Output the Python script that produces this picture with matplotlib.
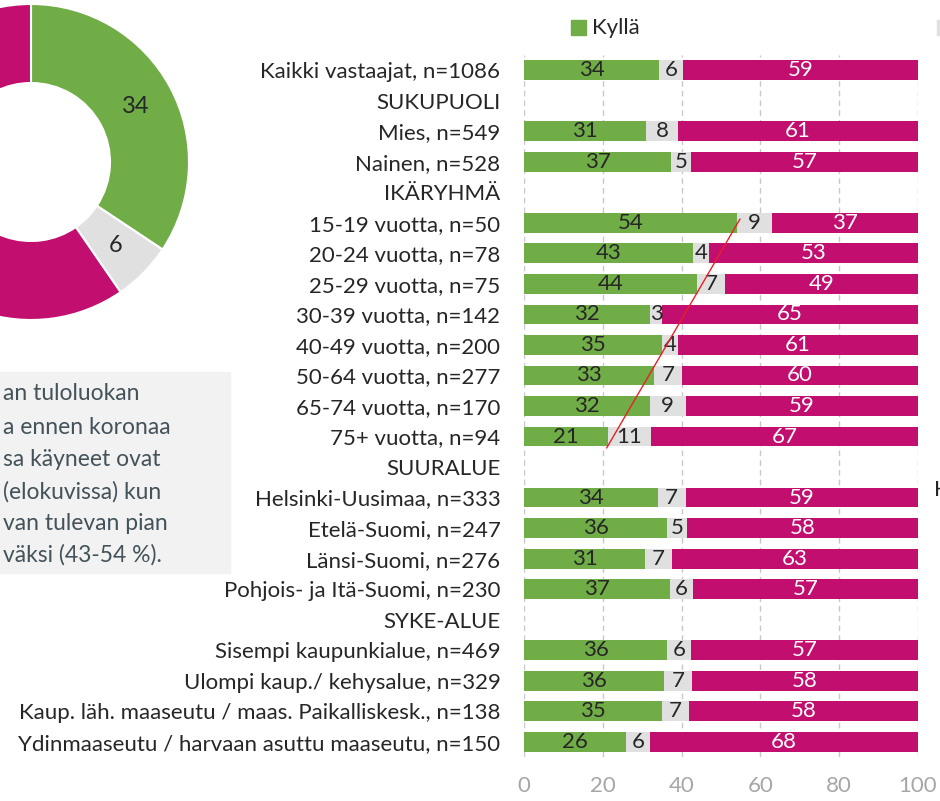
import math
import matplotlib
matplotlib.use("Agg")
import matplotlib.pyplot as plt
from matplotlib.patches import Rectangle

plt.rcParams['font.family'] = ['Lato', 'DejaVu Sans']

# ---------------- data ----------------
categories = [
    "Kaikki vastaajat, n=1086",
    "SUKUPUOLI",
    "Mies, n=549",
    "Nainen, n=528",
    "IKÄRYHMÄ",
    "15-19 vuotta, n=50",
    "20-24 vuotta, n=78",
    "25-29 vuotta, n=75",
    "30-39 vuotta, n=142",
    "40-49 vuotta, n=200",
    "50-64 vuotta, n=277",
    "65-74 vuotta, n=170",
    "75+ vuotta, n=94",
    "SUURALUE",
    "Helsinki-Uusimaa, n=333",
    "Etelä-Suomi, n=247",
    "Länsi-Suomi, n=276",
    "Pohjois- ja Itä-Suomi, n=230",
    "SYKE-ALUE",
    "Sisempi kaupunkialue, n=469",
    "Ulompi kaup./ kehysalue, n=329",
    "Kaup. läh. maaseutu / maas. Paikalliskesk., n=138",
    "Ydinmaaseutu / harvaan asuttu maaseutu, n=150",
]
kylla = [34, None, 31, 37, None, 54, 43, 44, 32, 35, 33, 32, 21, None,
         34, 36, 31, 37, None, 36, 36, 35, 26]
eos = [6, None, 8, 5, None, 9, 4, 7, 3, 4, 7, 9, 11, None,
       7, 5, 7, 6, None, 6, 7, 7, 6]
ei = [59, None, 61, 57, None, 37, 53, 49, 65, 61, 60, 59, 67, None,
      59, 58, 63, 57, None, 57, 58, 58, 68]
x_ticks = [0, 20, 40, 60, 80, 100]
legend_label = "Kyllä"

donut_values = [34, 6, 59]
donut_labels = ["34", "6", None]

box_lines = [
    "an tuloluokan",
    "a ennen koronaa",
    "sa käyneet ovat",
    "(elokuvissa) kun",
    "van tulevan pian",
    "väksi (43-54 %).",
]
right_fragment = "H"

# ---------------- style ----------------
GREEN = "#70AD47"
GREY = "#E0E0E0"
PINK = "#C20E6E"
TXT = "#262626"
W, H = 940, 801
FS = 16


def fx(px):
    return px / W


def fy(py):
    return 1 - py / H


fig = plt.figure(figsize=(W / 100, H / 100), dpi=100)

# ---------------- bar chart ----------------
ax = fig.add_axes([fx(524), fy(757), fx(918) - fx(524), fy(55) - fy(757)])
rows = list(range(len(categories)))
bh = 0.65
for i in rows:
    if kylla[i] is None:
        continue
    tot = kylla[i] + eos[i] + ei[i]
    a, b, c = (100 * v / tot for v in (kylla[i], eos[i], ei[i]))
    ax.barh(i, a, height=bh, color=GREEN, zorder=2)
    ax.barh(i, b, left=a, height=bh, color=GREY, zorder=2)
    ax.barh(i, c, left=a + b, height=bh, color=PINK, zorder=2)
    ax.text(a / 2, i, str(kylla[i]), ha="center", va="center", fontsize=FS, color=TXT, zorder=3)
    ax.text(a + b / 2, i, str(eos[i]), ha="center", va="center", fontsize=FS, color=TXT, zorder=3)
    ax.text(a + b + c / 2, i, str(ei[i]), ha="center", va="center", fontsize=FS, color="white", zorder=3)

ax.set_xlim(0, 100)
ax.set_ylim(len(categories) - 0.5, -0.5)
ax.set_xticks(x_ticks)
ax.set_xticklabels([str(t) for t in x_ticks], fontsize=FS, color="#A6A6A6")
ax.set_yticks(rows)
ax.set_yticklabels(categories, fontsize=FS, color=TXT)
ax.tick_params(axis="both", length=0)
ax.tick_params(axis="y", pad=17)
ax.tick_params(axis="x", pad=14)
for s in ax.spines.values():
    s.set_visible(False)
ax.grid(axis="x", color="#C8C8C8", linestyle=(0, (4, 3)), linewidth=1, zorder=0)
ax.set_axisbelow(True)

# red trend line between youngest and oldest age groups
i_young = categories.index("15-19 vuotta, n=50")
i_old = categories.index("75+ vuotta, n=94")
ax.plot([kylla[i_young] + 0.8, kylla[i_old]], [i_young - 0.12, i_old + 0.37],
        color="#E8202A", linewidth=1, zorder=4, clip_on=False)

# legend
fig.patches.append(Rectangle((fx(571), fy(35)), fx(15), fy(20) - fy(35),
                             transform=fig.transFigure, color=GREEN))
fig.text(fx(592), fy(28), legend_label, fontsize=FS, color=TXT, va="center", ha="left")
fig.patches.append(Rectangle((fx(937), fy(35)), fx(15), fy(20) - fy(35),
                             transform=fig.transFigure, color=GREY))
fig.text(fx(934), fy(490), right_fragment, fontsize=FS, color=TXT, va="center", ha="left")

# ---------------- donut ----------------
R = 158
cx, cy = 31, 162
dax = fig.add_axes([fx(cx - R), fy(cy + R), fx(2 * R), fy(cy - R) - fy(cy + R)])
dax.pie(donut_values, colors=[GREEN, GREY, PINK], startangle=90,
        counterclock=False, radius=1,
        wedgeprops=dict(width=0.5, edgecolor="white", linewidth=1.5))
dax.set_xlim(-1, 1)
dax.set_ylim(-1, 1)
dax.set_aspect("equal")
dax.axis("off")
dtot = sum(donut_values)
start = 0.0
for v, lab in zip(donut_values, donut_labels):
    mid = start + v / 2
    start += v
    if lab is None:
        continue
    ang = math.radians(90 - 360 * mid / dtot)
    dax.text(0.75 * math.cos(ang), 0.75 * math.sin(ang), lab, ha="center", va="center",
             fontsize=17, color=TXT)

# ---------------- text box ----------------
fig.patches.append(Rectangle((0, fy(573)), fx(230), fy(372) - fy(573),
                             transform=fig.transFigure, color="#F2F2F2", zorder=0))
line_y = [393, 428, 460, 492, 523, 555]
for t, yy in zip(box_lines, line_y):
    fig.text(fx(3), fy(yy), t, fontsize=16.5, color="#44525A", va="center", ha="left")

fig.savefig("out.png", dpi=100)
